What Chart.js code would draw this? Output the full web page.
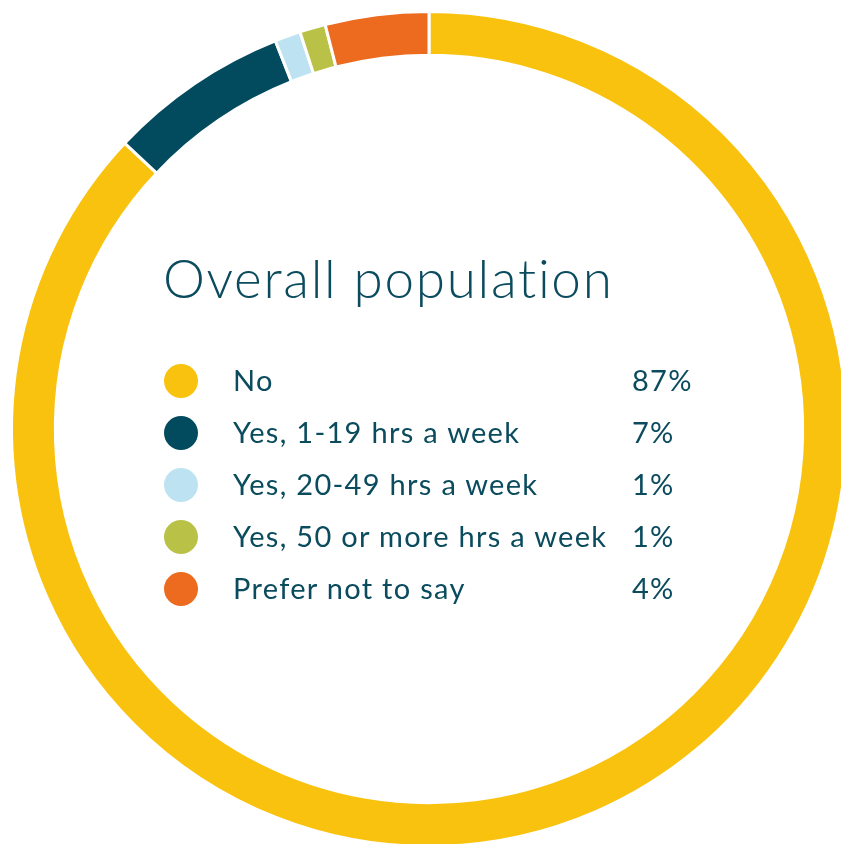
<!DOCTYPE html>
<html>
<head>
<meta charset="utf-8">
<script src="https://cdn.jsdelivr.net/npm/chart.js@4"></script>
<style>
  html, body { margin: 0; padding: 0; background: #fff; overflow: hidden; width: 841px; height: 844px; }
  #wrap { position: absolute; left: 0; top: 0; width: 858px; height: 858px; }
  #title {
    position: absolute; left: 163px; top: 246px; margin: 0;
    font-family: Lato, sans-serif; font-weight: 300; font-size: 53px;
    color: #0b4b5e; white-space: nowrap; letter-spacing: 1.7px;
  }
  #legend { position: absolute; left: 0; top: 0; }
  .row { position: absolute; left: 164px; height: 34px; width: 560px; }
  .dot { position: absolute; left: 0; top: 0; width: 34px; height: 34px; border-radius: 50%; }
  .lbl, .pct {
    position: absolute; top: -1px; line-height: 34px;
    font-family: Lato, sans-serif; font-size: 29px; color: #0b4b5e; white-space: nowrap;
    letter-spacing: 1.3px;
  }
  .lbl { left: 69px; }
  .pct { left: 468px; }
</style>
</head>
<body>
<div id="wrap"><canvas id="ring" width="858" height="858"></canvas></div>
<h1 id="title">Overall population</h1>
<div id="legend"></div>
<script>
const categories = ["No", "Yes, 1-19 hrs a week", "Yes, 20-49 hrs a week", "Yes, 50 or more hrs a week", "Prefer not to say"];
const shares = [87, 7, 1, 1, 4];
const colors = ["#f9c20f", "#024b5e", "#bde3f2", "#b9c247", "#ec6b1f"];

// legend rows
const legend = document.getElementById("legend");
categories.forEach((name, i) => {
  const row = document.createElement("div");
  row.className = "row";
  row.style.top = (364 + i * 52) + "px";
  row.innerHTML = `<div class="dot" style="background:${colors[i]}"></div>
    <span class="lbl">${name}</span><span class="pct">${shares[i]}%</span>`;
  legend.appendChild(row);
});

new Chart(document.getElementById("ring"), {
  type: "doughnut",
  data: {
    labels: categories,
    datasets: [{
      data: shares,
      backgroundColor: colors,
      borderColor: "#fff",
      borderWidth: 3
    }]
  },
  options: {
    responsive: false,
    animation: false,
    cutout: "89.5%",
    layout: { padding: 10 },
    plugins: {
      legend: { display: false },
      tooltip: { enabled: false }
    }
  }
});
</script>
</body>
</html>
